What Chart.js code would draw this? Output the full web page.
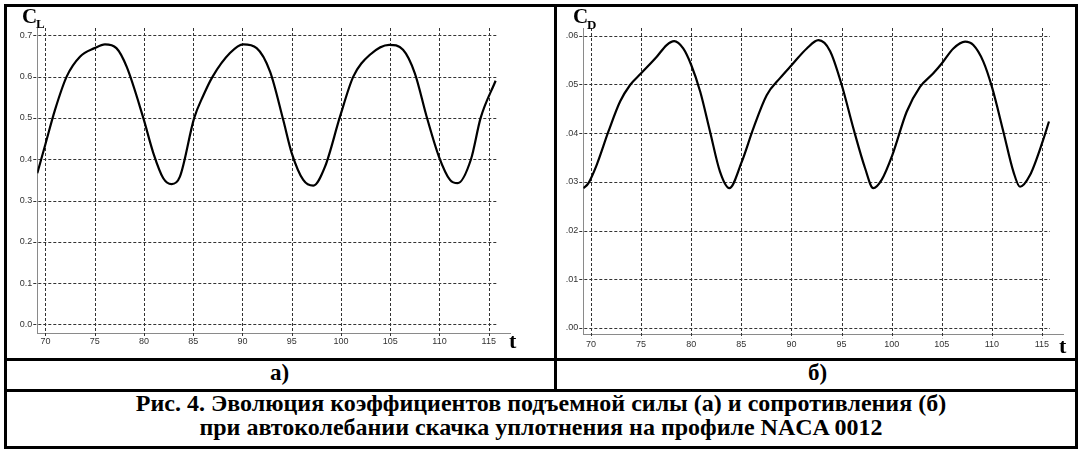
<!DOCTYPE html>
<html>
<head>
<meta charset="utf-8">
<script src="https://cdn.jsdelivr.net/npm/chart.js@4.4.1/dist/chart.umd.min.js"></script>
<style>
  html,body{margin:0;padding:0;background:#fff;}
  body{width:1082px;height:450px;position:relative;overflow:hidden;}
  .ln{position:absolute;background:#000;}
  .box{position:absolute;border:3px solid #000;box-sizing:border-box;}
  canvas{position:absolute;}
  .ser{position:absolute;font-family:"Liberation Serif","Times New Roman",serif;font-weight:bold;line-height:1;white-space:nowrap;color:#000;}
  .cap{position:absolute;left:4px;width:1074px;text-align:center;font-family:"Liberation Serif","Times New Roman",serif;font-weight:bold;font-size:24px;line-height:1;white-space:nowrap;}
</style>
</head>
<body>
<div class="box" style="left:4px;top:4px;width:1074px;height:445px;"></div>
<div class="ln" style="left:4px;top:358px;width:1074px;height:3px;"></div>
<div class="ln" style="left:4px;top:389px;width:1074px;height:3px;"></div>
<div class="ln" style="left:554px;top:4px;width:3px;height:388px;"></div>

<canvas id="cL" width="546" height="350" style="left:7px;top:7px;"></canvas>
<canvas id="cD" width="518" height="350" style="left:557px;top:7px;"></canvas>

<div class="ser" style="left:22px;top:6.4px;font-size:21px;">C</div>
<div class="ser" style="left:36px;top:17px;font-size:13px;">L</div>
<div class="ser" style="left:509px;top:329.6px;font-size:22px;">t</div>

<div class="ser" style="left:573px;top:6.4px;font-size:21px;">C</div>
<div class="ser" style="left:587px;top:18px;font-size:13px;">D</div>
<div class="ser" style="left:1059px;top:334.6px;font-size:22px;">t</div>

<div class="ser" style="left:4px;width:551px;text-align:center;top:361px;font-size:23px;">а)</div>
<div class="ser" style="left:557px;width:521px;text-align:center;top:361px;font-size:23px;">б)</div>

<div class="cap" style="top:391.4px;">Рис. 4. Эволюция коэффициентов подъемной силы (а) и сопротивления (б)</div>
<div class="cap" style="top:415px;">при автоколебании скачка уплотнения на профиле NACA 0012</div>

<script>
// ---- data ----
const tL = [69.17,70.0,70.96,72.15,73.5,75.0,76.04,77.2,78.24,79.93,80.95,81.96,82.8,83.65,85.1,86.0,86.97,88.73,90.08,91.44,92.8,94.14,95.0,96.17,97.19,98.38,99.9,101.25,102.94,104.9,106.3,107.5,108.7,109.95,111.07,111.85,113.2,114.18,115.7];
const cL = [0.366,0.437,0.519,0.600,0.648,0.669,0.678,0.669,0.624,0.500,0.415,0.354,0.340,0.358,0.500,0.553,0.600,0.657,0.678,0.669,0.612,0.495,0.415,0.350,0.336,0.382,0.503,0.600,0.653,0.677,0.665,0.608,0.503,0.406,0.350,0.342,0.400,0.500,0.590];

const tD = [69.23,69.73,70.57,71.73,72.9,73.9,75.0,76.56,77.55,78.3,79.2,80.0,80.9,81.88,82.87,83.8,85.04,86.2,87.53,88.86,90.03,91.53,92.7,93.85,95.02,96.18,97.35,98.17,99.0,100.07,101.5,102.83,104.16,105.0,106.16,107.33,108.15,109.15,110.05,111.15,112.15,112.81,113.81,115.07,115.7];
const cD = [0.0287,0.0297,0.0335,0.0403,0.0465,0.0499,0.0523,0.0557,0.0581,0.0589,0.0574,0.0540,0.0485,0.0403,0.0321,0.0287,0.0341,0.0410,0.0478,0.0513,0.0540,0.0574,0.0591,0.0569,0.0499,0.0410,0.0328,0.0287,0.0304,0.0355,0.0444,0.0495,0.0523,0.0543,0.0574,0.0588,0.0581,0.0547,0.0492,0.0403,0.0321,0.0290,0.0314,0.0383,0.0424];

const xTicks  = [70,75,80,85,90,95,100,105,110,115];
const xLabels = ['70','75','80','85','90','95','100','105','110','115'];
const yTicksL  = [0,0.1,0.2,0.3,0.4,0.5,0.6,0.7];
const yLabelsL = ['0.0','0.1','0.2','0.3','0.4','0.5','0.6','0.7'];
const yTicksD  = [0,0.01,0.02,0.03,0.04,0.05,0.06];
const yLabelsD = ['.00','.01','.02','.03','.04','.05','.06'];

const dashGrid = {
  id:'dashGrid',
  beforeDatasetsDraw(chart, args, opts){
    const {ctx, chartArea:a, scales:{x,y}} = chart;
    ctx.save();
    ctx.strokeStyle = opts.color || '#333';
    ctx.lineWidth = 1;
    ctx.setLineDash([3,2]);
    const xEnd = x.getPixelForValue(opts.end);
    y.ticks.forEach(t=>{
      const py = Math.round(y.getPixelForValue(t.value)) + 0.5;
      ctx.beginPath(); ctx.moveTo(a.left-4, py); ctx.lineTo(xEnd, py); ctx.stroke();
    });
    x.ticks.forEach(t=>{
      const px = Math.round(x.getPixelForValue(t.value)) + 0.5;
      ctx.beginPath(); ctx.moveTo(px, a.top); ctx.lineTo(px, a.bottom+4); ctx.stroke();
    });
    ctx.restore();
  }
};

const tickFont = {family:'"Liberation Sans Narrow","Arial Narrow","Liberation Sans",Arial,sans-serif', size:9};

function makeChart(id, tArr, vArr, yTicks, yLabels, cfg){
  const pts = tArr.map((t,i)=>({x:t, y:vArr[i]}));
  return new Chart(document.getElementById(id), {
    type:'line',
    data:{datasets:[{data:pts, borderColor:'#000', borderWidth:2.2, pointRadius:0, fill:false, cubicInterpolationMode:'monotone'}]},
    options:{
      responsive:false, animation:false, devicePixelRatio:1,
      layout:{padding:{left:0, right:cfg.padR, top:cfg.padT, bottom:0}},
      plugins:{legend:{display:false}, tooltip:{enabled:false}, dashGrid:{end:115.8, color:'#333'}},
      scales:{
        x:{type:'linear', min:cfg.xmin, max:cfg.xmax,
           afterBuildTicks:s=>{ s.ticks = xTicks.map(v=>({value:v})); },
           afterFit:s=>{ s.height = cfg.xH; },
           grid:{display:false, drawTicks:false},
           border:{display:true, color:'#8a8a8a', width:1},
           ticks:{autoSkip:false, maxRotation:0, padding:cfg.xPad, color:'#333', font:tickFont,
                  callback:(v,i)=>xLabels[i]}},
        y:{type:'linear', min:cfg.ymin, max:cfg.ymax,
           afterBuildTicks:s=>{ s.ticks = yTicks.map(v=>({value:v})); },
           afterFit:s=>{ s.width = cfg.yW; },
           grid:{display:false, drawTicks:false},
           border:{display:true, color:'#8a8a8a', width:1},
           ticks:{autoSkip:false, padding:5, color:'#333', font:tickFont,
                  callback:(v,i)=>yLabels[i]}}
      }
    },
    plugins:[dashGrid]
  });
}

makeChart('cL', tL, cL, yTicksL, yLabelsL,
  {xmin:69.17, xmax:117.16, ymin:-0.0206, ymax:0.7177, padR:43, padT:21, xH:24, yW:30.3, xPad:3});
makeChart('cD', tD, cD, yTicksD, yLabelsD,
  {xmin:69.23, xmax:117.1, ymin:-0.0013, ymax:0.0616, padR:12, padT:21, xH:22.7, yW:26.3, xPad:5});
</script>
</body>
</html>
